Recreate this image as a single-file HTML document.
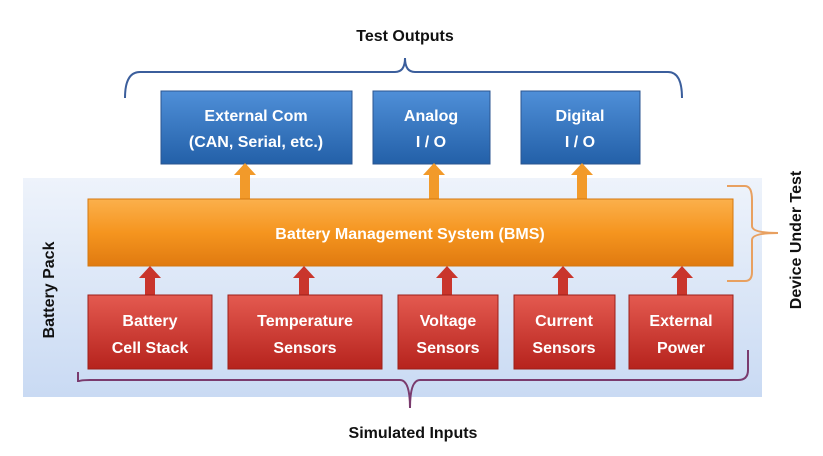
<!DOCTYPE html>
<html><head><meta charset="utf-8"><style>
body{margin:0;background:#fff;width:823px;height:451px;overflow:hidden;font-family:"Liberation Sans",sans-serif;}
</style></head><body>
<svg width="823" height="451" viewBox="0 0 823 451" xmlns="http://www.w3.org/2000/svg">
<defs>
<linearGradient id="bg" x1="0" y1="0" x2="0" y2="1"><stop offset="0" stop-color="#eef3fb"/><stop offset="1" stop-color="#c9daf3"/></linearGradient>
<linearGradient id="bl" x1="0" y1="0" x2="0" y2="1"><stop offset="0" stop-color="#4f8fd8"/><stop offset="1" stop-color="#2360a8"/></linearGradient>
<linearGradient id="or" x1="0" y1="0" x2="0" y2="1"><stop offset="0" stop-color="#fbb04c"/><stop offset="0.5" stop-color="#f5951f"/><stop offset="1" stop-color="#e07a10"/></linearGradient>
<linearGradient id="rd" x1="0" y1="0" x2="0" y2="1"><stop offset="0" stop-color="#e45a50"/><stop offset="1" stop-color="#b6231d"/></linearGradient>
<g id="ao"><rect x="-5" y="10" width="10" height="26" fill="#f29a2a"/><polygon points="-11,12 0,0 11,12" fill="#f29a2a"/></g>
<g id="ar"><rect x="-5" y="10" width="10" height="20" fill="#c9352c"/><polygon points="-11,12 0,0 11,12" fill="#c9352c"/></g>
</defs>
<rect x="23" y="178" width="739" height="219" fill="url(#bg)"/>
<text x="405" y="41" font-size="16" font-weight="bold" text-anchor="middle" fill="#111">Test Outputs</text>
<path d="M125 98 Q125 72 140 72 L395 72 Q405 72 405 58 Q405 72 415 72 L668 72 Q682 72 682 98" fill="none" stroke="#3b5e9c" stroke-width="2"/>
<rect x="161" y="91" width="191" height="73" fill="url(#bl)" stroke="#2b5590"/>
<rect x="373" y="91" width="117" height="73" fill="url(#bl)" stroke="#2b5590"/>
<rect x="521" y="91" width="119" height="73" fill="url(#bl)" stroke="#2b5590"/>
<g fill="#fff" font-size="16" font-weight="bold" text-anchor="middle">
<text x="256" y="121">External Com</text><text x="256" y="147">(CAN, Serial, etc.)</text>
<text x="431" y="121">Analog</text><text x="431" y="147">I / O</text>
<text x="580" y="121">Digital</text><text x="580" y="147">I / O</text>
</g>
<use href="#ao" x="245" y="163"/><use href="#ao" x="434" y="163"/><use href="#ao" x="582" y="163"/>
<rect x="88" y="199" width="645" height="67" fill="url(#or)" stroke="#d4780f"/>
<text x="410" y="239" font-size="16" font-weight="bold" fill="#fff" text-anchor="middle">Battery Management System (BMS)</text>
<use href="#ar" x="150" y="266"/><use href="#ar" x="304" y="266"/><use href="#ar" x="447" y="266"/><use href="#ar" x="563" y="266"/><use href="#ar" x="682" y="266"/>
<g fill="url(#rd)" stroke="#9c1f19">
<rect x="88" y="295" width="124" height="74"/><rect x="228" y="295" width="154" height="74"/><rect x="398" y="295" width="100" height="74"/><rect x="514" y="295" width="101" height="74"/><rect x="629" y="295" width="104" height="74"/>
</g>
<g fill="#fff" font-size="16" font-weight="bold" text-anchor="middle">
<text x="150" y="326">Battery</text><text x="150" y="353">Cell Stack</text>
<text x="305" y="326">Temperature</text><text x="305" y="353">Sensors</text>
<text x="448" y="326">Voltage</text><text x="448" y="353">Sensors</text>
<text x="564" y="326">Current</text><text x="564" y="353">Sensors</text>
<text x="681" y="326">External</text><text x="681" y="353">Power</text>
</g>
<path d="M78 372 L78 382 Q78 380 90 380 L400 380 Q410 380 410 408 Q410 380 420 380 L738 380 Q748 380 748 370 L748 350" fill="none" stroke="#7a3b6e" stroke-width="2"/>
<text x="413" y="438" font-size="16" font-weight="bold" text-anchor="middle" fill="#111">Simulated Inputs</text>
<path d="M727 186 L745 186 Q752 186 752 200 L752 226 Q752 233 778 233 Q752 233 752 240 L752 272 Q752 281 745 281 L727 281" fill="none" stroke="#e8a060" stroke-width="2"/>
<text transform="translate(801,240) rotate(-90)" font-size="16" font-weight="bold" text-anchor="middle" fill="#111">Device Under Test</text>
<text transform="translate(54,290) rotate(-90)" font-size="16" font-weight="bold" text-anchor="middle" fill="#111">Battery Pack</text>
</svg>
</body></html>
